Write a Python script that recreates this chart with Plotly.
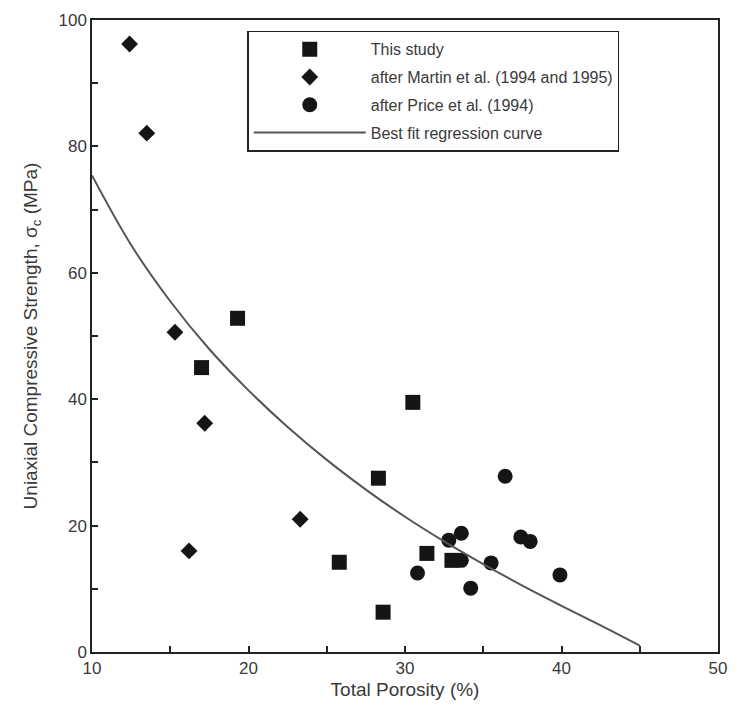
import plotly.graph_objects as go

# Data
study_x = [19.3, 17.0, 30.5, 28.3, 25.8, 28.6, 31.4, 33.0]
study_y = [52.8, 45.0, 39.5, 27.5, 14.2, 6.3, 15.6, 14.5]

martin_x = [12.4, 13.5, 15.3, 17.2, 16.2, 23.3]
martin_y = [96.2, 82.1, 50.6, 36.2, 16.0, 21.0]

price_x = [36.4, 32.8, 33.6, 37.4, 38.0, 35.5, 30.8, 34.2, 39.9, 33.6]
price_y = [27.8, 17.7, 18.8, 18.2, 17.5, 14.1, 12.5, 10.1, 12.2, 14.5]

fit_x = [10, 12.5, 15, 17.5, 20, 22.5, 25, 27.5, 30, 32.5, 35, 37.5, 40, 42.5, 45]
fit_y = [75.4, 64.4, 55.5, 47.9, 41.4, 35.6, 30.4, 25.7, 21.4, 17.5, 13.9, 10.5, 7.3, 4.2, 1.0]

# Tick positions (major labelled, minor unlabelled)
x_tickvals = [10, 15, 20, 25, 30, 35, 40, 45, 50]
x_ticktext = ["10", "", "20", "", "30", "", "40", "", "50"]
y_tickvals = [0, 10, 20, 30, 40, 50, 60, 70, 80, 90, 100]
y_ticktext = ["0", "", "20", "", "40", "", "60", "", "80", "", "100"]

FONT = "Liberation Sans, Arial, sans-serif"
TXT = "#3a3a3a"

fig = go.Figure()
fig.add_trace(go.Scatter(x=study_x, y=study_y, mode="markers", name="This study",
                         legendgroup="a",
                         marker=dict(symbol="square", size=15, color="#151515")))
fig.add_trace(go.Scatter(x=martin_x, y=martin_y, mode="markers",
                         name="after Martin et al. (1994 and 1995)", legendgroup="b",
                         marker=dict(symbol="diamond", size=13, color="#151515")))
fig.add_trace(go.Scatter(x=price_x, y=price_y, mode="markers",
                         name="after Price et al. (1994)", legendgroup="c",
                         marker=dict(symbol="circle", size=15, color="#151515")))
fig.add_trace(go.Scatter(x=fit_x, y=fit_y, mode="lines", name="Best fit regression curve",
                         legendgroup="d",
                         line=dict(color="#555555", width=2, shape="spline")))

def axis_style(tickvals, ticktext, title_text, standoff):
    return dict(
        showgrid=False, zeroline=False, showline=True, mirror=True,
        linecolor="#222222", linewidth=1.5,
        tickmode="array", tickvals=tickvals, ticktext=ticktext,
        ticks="inside", ticklen=6, tickcolor="#222222", tickwidth=1.5,
        tickfont=dict(family=FONT, size=17, color=TXT),
        title=dict(text=title_text, font=dict(family=FONT, size=19, color=TXT),
                   standoff=standoff),
    )

fig.update_layout(
    width=738, height=718,
    margin=dict(l=92, r=11, t=16, b=66),
    paper_bgcolor="white", plot_bgcolor="white",
    font=dict(family=FONT, color=TXT),
    xaxis=dict(range=[10, 50], **axis_style(x_tickvals, x_ticktext, "Total Porosity (%)", 6)),
    yaxis=dict(range=[0, 100],
               **axis_style(y_tickvals, y_ticktext,
                            "Uniaxial Compressive Strength, σ<sub>c</sub> (MPa)", 16)),
    legend=dict(x=0.248, y=0.983, xanchor="left", yanchor="top",
                bgcolor="white", bordercolor="#222", borderwidth=1.5,
                font=dict(family=FONT, size=16, color=TXT),
                itemwidth=112, tracegroupgap=4),
)

fig.write_html("out.html")
